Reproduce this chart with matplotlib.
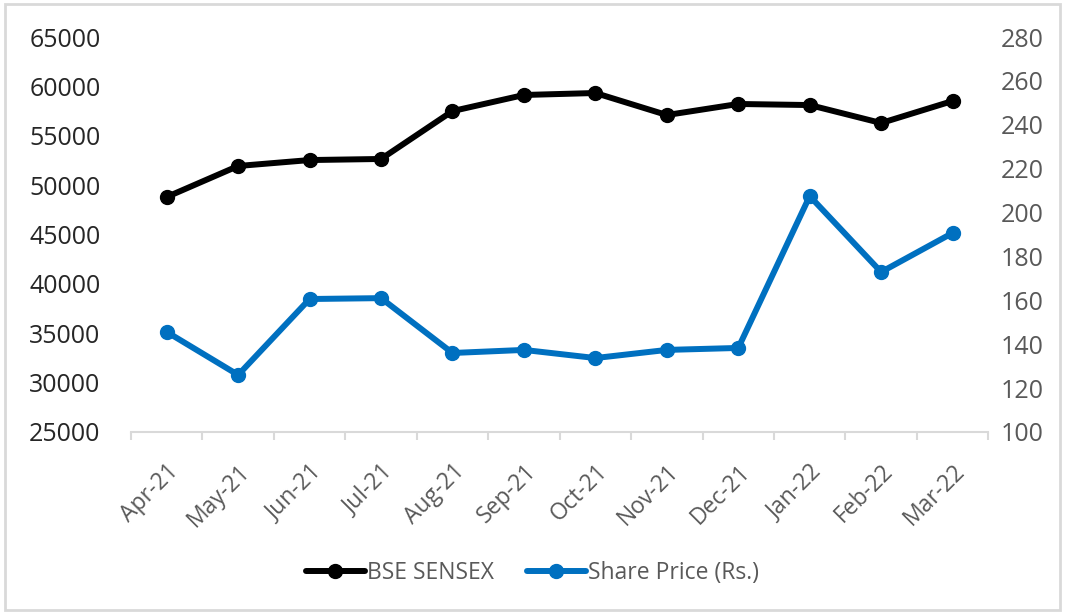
import numpy as np
import matplotlib.pyplot as plt
from matplotlib.patches import Rectangle

months = ['Apr-21', 'May-21', 'Jun-21', 'Jul-21', 'Aug-21', 'Sep-21',
          'Oct-21', 'Nov-21', 'Dec-21', 'Jan-22', 'Feb-22', 'Mar-22']
sensex = [48800, 51940, 52540, 52650, 57500, 59130,
          59330, 57100, 58220, 58110, 56290, 58520]
share_price = [145.6, 126.0, 160.6, 161.0, 136.0, 137.4,
               133.7, 137.4, 138.3, 207.5, 172.9, 190.7]

plt.rcParams['font.family'] = ['Open Sans', 'DejaVu Sans']
label_col = '#595959'
axis_col = '#D9D9D9'

fig = plt.figure(figsize=(10.65, 6.13), dpi=100)
ax = fig.add_axes([0.123, 0.2953, 0.805, 0.6443])
ax2 = ax.twinx()

x = np.arange(len(months))
l1, = ax.plot(x, sensex, color='black', lw=4.3, marker='o', ms=10,
              label='BSE SENSEX', solid_capstyle='round')
l2, = ax2.plot(x, share_price, color='#0070C0', lw=4.3, marker='o', ms=10,
               label='Share Price (Rs.)', solid_capstyle='round')

ax.set_xlim(-0.5, len(months) - 0.5)
ax.set_ylim(25000, 65000)
ax.set_yticks(np.arange(25000, 65001, 5000))
ax2.set_ylim(100, 280)
ax2.set_yticks(np.arange(100, 281, 20))

for a in (ax, ax2):
    for s in a.spines.values():
        s.set_visible(False)
ax.spines['bottom'].set_visible(True)
ax.spines['bottom'].set_color(axis_col)
ax.spines['bottom'].set_linewidth(1.5)

ax.tick_params(axis='y', length=0, pad=22, labelsize=18, labelcolor='#262626')
ax2.tick_params(axis='y', length=0, pad=9, labelsize=18, labelcolor=label_col)

ax.set_xticks(x)
ax.set_xticklabels(months, rotation=45, ha='right', va='top',
                   rotation_mode='anchor', fontsize=16.5, color=label_col)
ax.tick_params(axis='x', which='major', length=0, pad=20)
ax.set_xticks(np.arange(-0.5, len(months), 1), minor=True)
ax.tick_params(axis='x', which='minor', length=6, width=1.5, color=axis_col)

fig.legend(handles=[l1, l2], loc='center', bbox_to_anchor=(0.5, 0.065),
           ncol=2, frameon=False, fontsize=16.5, handlelength=2.6,
           handletextpad=0.1, columnspacing=1.4, labelcolor=label_col)

fig.add_artist(Rectangle((0.005, 0.005), 0.99, 0.989, transform=fig.transFigure,
                         fill=False, edgecolor=axis_col, lw=2))

fig.savefig('out.png', dpi=100)
